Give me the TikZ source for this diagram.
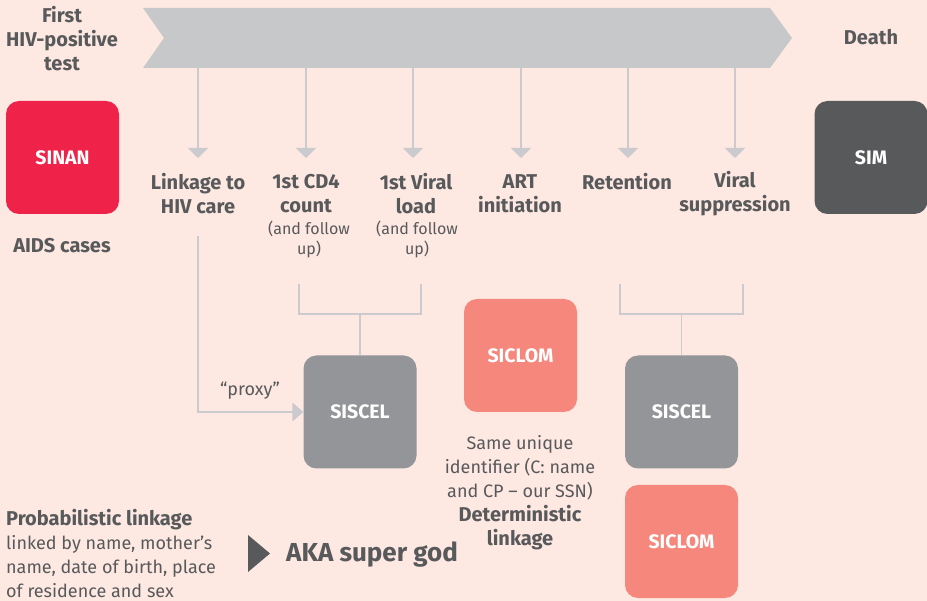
\documentclass[tikz,border=0pt]{standalone}
\usepackage{fontspec}
\setmainfont{Fira Sans}
\usetikzlibrary{arrows.meta}
\definecolor{bgc}{RGB}{253,232,226}
\definecolor{chev}{RGB}{199,200,202}
\definecolor{linec}{RGB}{203,203,207}
\definecolor{txt}{RGB}{88,89,91}
\definecolor{sinanc}{RGB}{239,35,73}
\definecolor{simc}{RGB}{88,89,91}
\definecolor{siscelc}{RGB}{147,149,152}
\definecolor{siclomc}{RGB}{245,135,125}
\begin{document}
\begin{tikzpicture}[x=1pt,y=-1pt,
  lbl/.style={font=\bfseries\fontsize{20}{24}\selectfont, text=txt, align=center, inner sep=0},
  sub/.style={font=\fontsize{16}{20}\selectfont, text=txt, align=center, inner sep=0},
  reg/.style={font=\fontsize{18}{24}\selectfont, text=txt, align=center, inner sep=0},
  box/.style={rounded corners=13pt, minimum width=113pt, minimum height=113pt, inner sep=0,
    font=\bfseries\fontsize{19.5}{22}\selectfont, text=white},
  conn/.style={draw=linec, line width=1.5pt},
  arr/.style={conn, -{Triangle[length=10pt,width=20pt]}},
  sarr/.style={conn, -{Triangle[length=11pt,width=19pt]}},
]
\fill[bgc] (0,0) rectangle (927,601);
\useasboundingbox (0,0) rectangle (927,601);

% timeline chevron
\fill[chev] (143,8) -- (770,8) -- (792,38) -- (770,68) -- (143,68) -- (164,38) -- cycle;

\node[lbl] (first) at (62,39) {First\\HIV-positive\\test};
\node[lbl] (death) at (871,37) {Death};

% boxes
\node[box, fill=sinanc] (sinan) at (62.5,157.5) {SINAN};
\node[lbl] (aids) at (62,246) {AIDS cases};
\node[box, fill=simc] (sim) at (871,157.5) {SIM};

\node[box, fill=siscelc] (siscel1) at (360,412) {SISCEL};
\node[box, fill=siclomc] (siclom1) at (520.5,355.5) {SICLOM};
\node[box, fill=siscelc] (siscel2) at (681.5,412) {SISCEL};
\node[box, fill=siclomc] (siclom2) at (681.5,541.5) {SICLOM};

% stage labels
\node[lbl] (l1) at (198,194) {Linkage to\\HIV care};
\node[lbl] (l2) at (306,194) {1st CD4\\count};
\node[sub] (l2s) at (309,239) {(and follow\\up)};
\node[lbl] (l3) at (416,194) {1st Viral\\load};
\node[sub] (l3s) at (417,239) {(and follow\\up)};
\node[lbl] (l4) at (520,194) {ART\\initiation};
\node[lbl] (l5) at (627,182) {Retention};
\node[lbl] (l6) at (735,194) {Viral\\suppression};

% arrows from timeline
\foreach \i/\x in {1/198,2/306,3/413,4/521,5/628,6/735}{
  \coordinate (a\i) at (\x,68);
  \coordinate (e\i) at (\x,158);
  \draw[arr] (a\i) -- (e\i);
}

% bracket 1
\coordinate (b1l) at (299,284);
\coordinate (b1r) at (421,284);
\coordinate (b1m) at (360,314);
\draw[conn] (b1l) |- (b1m) -| (b1r);
\draw[conn] (b1m) -- (siscel1.north);

% bracket 2
\coordinate (b2l) at (620,284);
\coordinate (b2r) at (743,284);
\coordinate (b2m) at (681.5,314);
\draw[conn] (b2l) |- (b2m) -| (b2r);
\draw[conn] (b2m) -- (siscel2.north);

% linkage proxy
\coordinate (lk) at (198,236);
\draw[sarr] (lk) |- (siscel1.west);
\node[reg] (proxy) at (250,391) {“proxy”};

% deterministic text
\node[reg] (same) at (520,468) {Same unique\\identifier (C: name\\and CP – our SSN)};
\node[lbl] (det) at (520,528) {Deterministic\\linkage};

% probabilistic text
\node[reg, align=left, anchor=north west] (prob) at (6,509.5)
  {{\bfseries\fontsize{20}{24}\selectfont Probabilistic linkage}\\linked by name, mother’s\\name, date of birth, place\\of residence and sex};

\fill[txt] (248,535) -- (270,553.5) -- (248,572) -- cycle;
\node[font=\bfseries\fontsize{26}{30}\selectfont, text=txt, inner sep=0, anchor=west] (aka) at (286,555) {AKA super god};
\end{tikzpicture}
\end{document}
